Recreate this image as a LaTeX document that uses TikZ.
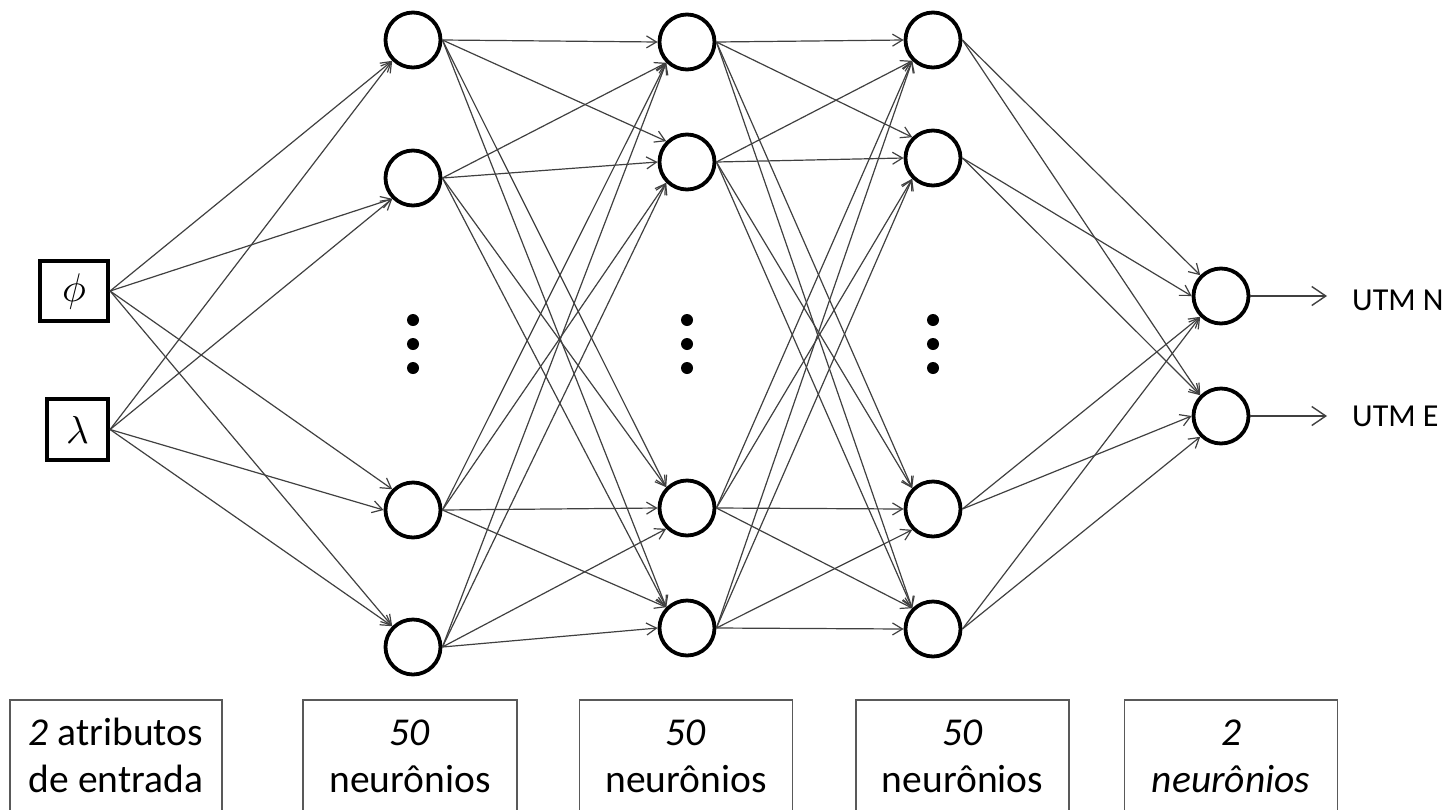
\documentclass[tikz,border=0pt]{standalone}
\usepackage{fontspec}
\setmainfont{Carlito}
\usetikzlibrary{arrows.meta}

% connect every source to every target; the arrow lands on the west,
% north west or south west point of the target depending on the slope
\newcommand\fullconnect[4]{%
  \foreach \s/\sy in {#1}{%
    \foreach \t/\ty in {#2}{%
      \pgfmathtruncatemacro\k{((\ty-\sy)/#3 > #4) ? 1 : (((\ty-\sy)/#3 < -#4) ? 2 : 0)}%
      \ifcase\k\def\anc{west}\or\def\anc{north west}\or\def\anc{south west}\fi
      \draw[link] (\s.east) -- (\t.\anc);
    }}}

\begin{document}
\begin{tikzpicture}[x=1pt,y=-1pt,
  neuron/.style={circle,draw=black,line width=3.8pt,minimum size=55pt,inner sep=0pt},
  inbox/.style={draw=black,line width=4.2pt,inner sep=0pt},
  link/.style={draw=black!75,line width=1.2pt,-{Straight Barb[length=10pt,width=12pt]}},
  outlink/.style={draw=black!75,line width=1.4pt,-{Straight Barb[length=14pt,width=19pt]}},
  layerbox/.style={draw=black!65,line width=1.4pt,minimum width=212pt,minimum height=125pt,inner sep=0pt},
  lbl/.style={font=\fontsize{39.5}{44}\selectfont,anchor=base,inner sep=0pt},
  utm/.style={font=\fontsize{32}{38}\selectfont,anchor=base west,inner sep=0pt},
  dot/.style={circle,fill=black,inner sep=0pt,minimum size=12pt}]

\useasboundingbox (0,0) rectangle (1453,809);

% input attributes
\node[inbox,minimum width=68pt,minimum height=60pt] (ip) at (74,291) {\scalebox{4}{$\phi$}};
\node[inbox,minimum width=61pt,minimum height=61pt] (il) at (77.5,429.5) {\scalebox{3.9}{$\lambda$}};

% hidden layer 1
\node[neuron] (a1) at (413,40) {};
\node[neuron] (a2) at (413,178) {};
\node[neuron] (a3) at (413,510) {};
\node[neuron] (a4) at (413,647) {};
% hidden layer 2
\node[neuron] (b1) at (687,42) {};
\node[neuron] (b2) at (687,162) {};
\node[neuron] (b3) at (687,508) {};
\node[neuron] (b4) at (687,628) {};
% hidden layer 3
\node[neuron] (c1) at (933,40) {};
\node[neuron] (c2) at (933,158) {};
\node[neuron] (c3) at (933,509) {};
\node[neuron] (c4) at (933,629) {};
% output layer
\node[neuron] (o1) at (1221,296) {};
\node[neuron] (o2) at (1221,416) {};

% vertical ellipses
\foreach \x/\n in {413/a,687/b,933/c}{
  \node[dot] (\n d1) at (\x,320) {};
  \node[dot] (\n d2) at (\x,344) {};
  \node[dot] (\n d3) at (\x,368) {};
}

% weights
\fullconnect{ip/291,il/430}{a1/40,a2/178,a3/510,a4/647}{303}{0.3}
\fullconnect{a1/40,a2/178,a3/510,a4/647}{b1/42,b2/162,b3/508,b4/628}{274}{0.3}
\fullconnect{b1/42,b2/162,b3/508,b4/628}{c1/40,c2/158,c3/509,c4/629}{246}{0.3}
\fullconnect{c1/40,c2/158,c3/509,c4/629}{o1/296,o2/416}{288}{0.7}

% outputs
\coordinate (tN) at (1327,296);
\coordinate (tE) at (1327,416);
\draw[outlink] (o1.east) -- (tN);
\draw[outlink] (o2.east) -- (tE);
\node[utm] (lN) at (1352,310) {UTM N};
\node[utm] (lE) at (1352,426) {UTM E};

% layer descriptions
\node[layerbox] (d1) at (116,762.5) {};
\node[layerbox,minimum width=214pt] (d2) at (410,762.5) {};
\node[layerbox,minimum width=213pt] (d3) at (686,762.5) {};
\node[layerbox,minimum width=213pt] (d4) at (962.5,762.5) {};
\node[layerbox,minimum width=213pt] (d5) at (1231,762.5) {};

\node[lbl] (t1a) at (116,745) {\textit{2} atributos};
\node[lbl] (t1b) at (116,792) {de entrada};
\node[lbl] (t2a) at (410,745) {\textit{50}};
\node[lbl] (t2b) at (410,792) {neurônios};
\node[lbl] (t3a) at (686,745) {\textit{50}};
\node[lbl] (t3b) at (686,792) {neurônios};
\node[lbl] (t4a) at (962.5,745) {\textit{50}};
\node[lbl] (t4b) at (962.5,792) {neurônios};
\node[lbl] (t5a) at (1231,745) {\textit{2}};
\node[lbl] (t5b) at (1231,792) {\textit{neurônios}};
\end{tikzpicture}
\end{document}
